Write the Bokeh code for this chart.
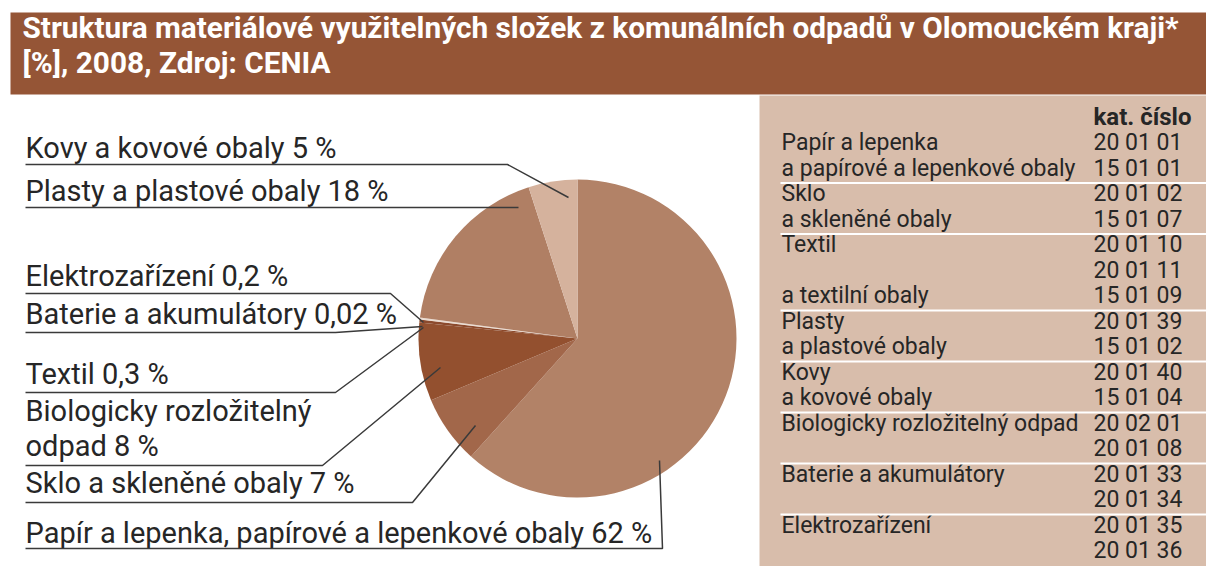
import numpy as np
from bokeh.plotting import figure
from bokeh.models import Range1d, ColumnDataSource
from bokeh.embed import file_html
from bokeh.resources import INLINE
from bokeh.core.properties import value

# ---------------- data ----------------
title_lines = [
    "Struktura materiálové využitelných složek z komunálních odpadů v Olomouckém kraji*",
    "[%], 2008, Zdroj: CENIA",
]
# clockwise from 12 o'clock
categories = [
    "Papír a lepenka, papírové a lepenkové obaly",
    "Sklo a skleněné obaly",
    "Biologicky rozložitelný odpad",
    "Textil",
    "Baterie a akumulátory",
    "Elektrozařízení",
    "Plasty a plastové obaly",
    "Kovy a kovové obaly",
]
shares = [62, 7, 8, 0.3, 0.02, 0.2, 18, 5]
share_text = ["62 %", "7 %", "8 %", "0,3 %", "0,02 %", "0,2 %", "18 %", "5 %"]
slice_colors = ["#b28267", "#a2674a", "#93502f", "#8c4a2d", "#c9a892", "#eadbd0", "#b07f64", "#d5b29d"]

table_names = [
    "Papír a lepenka", "a papírové a lepenkové obaly",
    "Sklo", "a skleněné obaly",
    "Textil", "", "a textilní obaly",
    "Plasty", "a plastové obaly",
    "Kovy", "a kovové obaly",
    "Biologicky rozložitelný odpad", "",
    "Baterie a akumulátory", "",
    "Elektrozařízení", "",
]
table_codes = [
    "20 01 01", "15 01 01",
    "20 01 02", "15 01 07",
    "20 01 10", "20 01 11", "15 01 09",
    "20 01 39", "15 01 02",
    "20 01 40", "15 01 04",
    "20 02 01", "20 01 08",
    "20 01 33", "20 01 34",
    "20 01 35", "20 01 36",
]
group_ends = [1, 3, 6, 8, 10, 12, 14]  # separator after these rows

# ---------------- layout helpers ----------------
W, H = 1206, 566
def X(x):
    return x
def Y(y):
    return H - y

FONT = "Roboto"
TXT = "#262626"

p = figure(width=W, height=H, output_backend="svg", toolbar_location=None,
           x_range=Range1d(0, W), y_range=Range1d(0, H), min_border=0)
p.axis.visible = False
p.grid.visible = False
p.outline_line_color = None
p.background_fill_color = "white"
p.border_fill_color = "white"

# title bar and right panel
p.quad(left=[X(10)], right=[X(1210)], top=[Y(12)], bottom=[Y(94)], color="#955536", line_color=None)
p.quad(left=[X(759)], right=[X(1210)], top=[Y(95)], bottom=[Y(570)], color="#d8bdab", line_color=None)

for line, by in zip(title_lines, [37, 72]):
    p.text(x=[X(22)], y=[Y(by - 10)], text=[line], text_color="white", text_font=value(FONT),
           text_font_style="bold", text_font_size="29.8px", text_baseline="middle")

# ---------------- pie ----------------
vals = np.array(shares, dtype=float)
frac = vals / vals.sum()
cum = np.concatenate([[0], np.cumsum(frac)])
start = np.pi / 2 - cum[:-1] * 2 * np.pi
end = np.pi / 2 - cum[1:] * 2 * np.pi
cx, cy, R = X(577), Y(338), 159
src = ColumnDataSource(dict(start=start, end=end, color=slice_colors, cat=categories))
p.wedge(x=cx, y=cy, radius=R, start_angle="start", end_angle="end", direction="clock",
        fill_color="color", line_color=None, source=src)

# ---------------- labels with leader lines ----------------
# (baselines, underline y, leader path beyond underline)
label_layout = {
    7: ([157], 164, [(507, 164), (568, 197)]),
    6: ([200], 207, [(518, 207)]),
    5: ([285], 293, [(390, 293), (423, 322)]),
    4: ([323], 332, [(335, 332), (422, 326)]),
    3: ([383], 392, [(335, 392), (423, 327)]),
    2: ([420, 455], 465, [(322, 465), (440, 367)]),
    1: ([492], 502, [(412, 502), (475, 425)]),
    0: ([542], 548, [(662, 548), (659, 460)]),
}
for i, (baselines, uy, path) in label_layout.items():
    if i == 2:
        lines = ["Biologicky rozložitelný", "odpad " + share_text[i]]
    else:
        lines = [categories[i] + " " + share_text[i]]
    for ln, by in zip(lines, baselines):
        p.text(x=[X(25)], y=[Y(by - 10)], text=[ln], text_color=TXT, text_font=value(FONT),
               text_font_size="29px", text_baseline="middle")
    xs = [X(25)] + [X(px) for px, _ in path]
    ys = [Y(uy)] + [Y(py) for _, py in path]
    p.line(xs, ys, line_color="#3a3a3a", line_width=1.5)

# ---------------- table ----------------
p.text(x=[X(1093)], y=[Y(124 - 8)], text=["kat. číslo"], text_color=TXT, text_font=value(FONT),
       text_font_style="bold", text_font_size="24px", text_baseline="middle")
rows = np.arange(len(table_codes))
row_base = 150 + 25.5 * rows
tsrc = ColumnDataSource(dict(xn=[X(781)] * len(rows), xc=[X(1093)] * len(rows),
                             y=[Y(b - 8) for b in row_base], name=table_names, code=table_codes))
p.text(x="xn", y="y", text="name", source=tsrc, text_color=TXT, text_font=value(FONT),
       text_font_size="23px", text_baseline="middle")
p.text(x="xc", y="y", text="code", source=tsrc, text_color=TXT, text_font=value(FONT),
       text_font_size="23px", text_baseline="middle")
for g in group_ends:
    sy = Y(row_base[g] + 7)
    p.line([X(780), X(1210)], [sy, sy], line_color="white", line_width=2)

open("out.html", "w").write(file_html(p, INLINE))
